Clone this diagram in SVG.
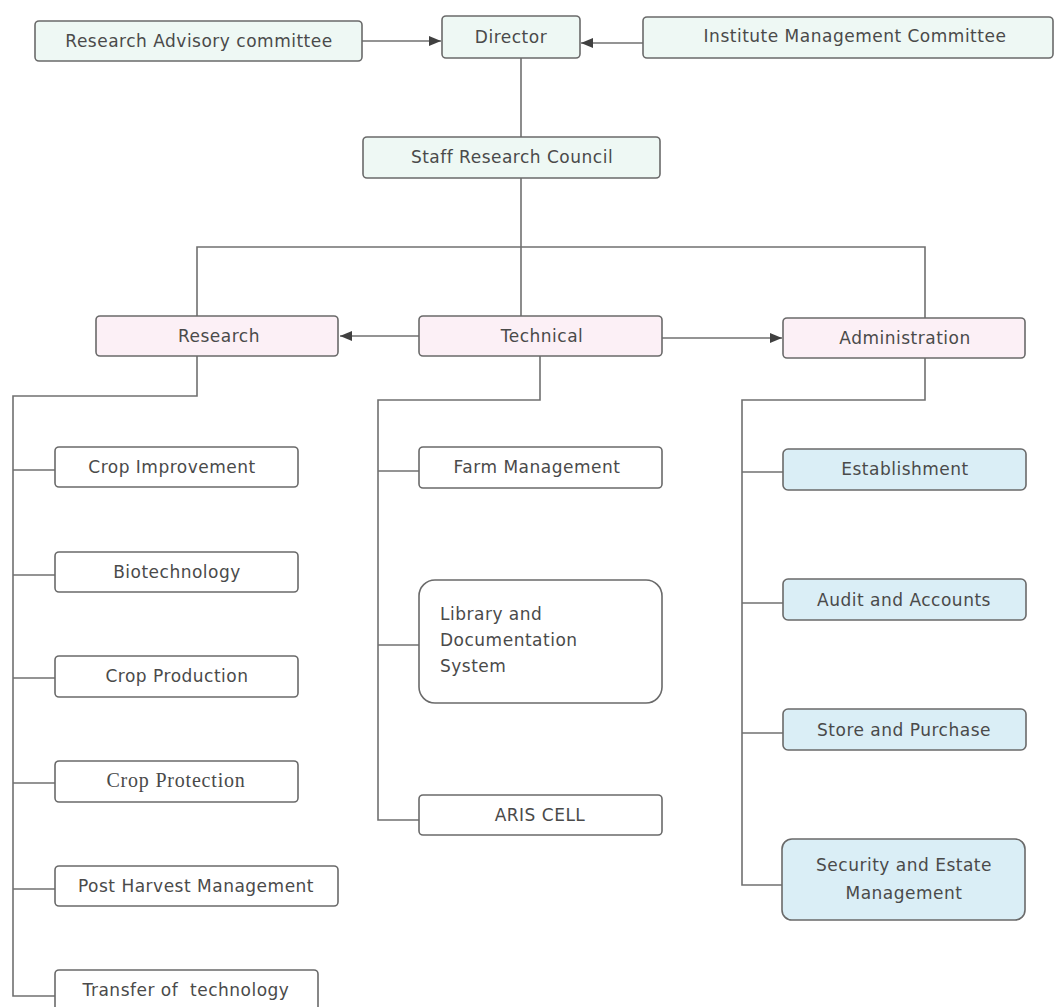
<svg xmlns="http://www.w3.org/2000/svg" width="1055" height="1007" viewBox="0 0 1055 1007">
<style>
.box{stroke:#6a6a6a;stroke-width:1.6}
.top{fill:#eef8f4}
.mid{fill:#fcf0f6}
.adm{fill:#daeef6}
.plain{fill:#ffffff}
.t{font-family:"DejaVu Sans",Verdana,sans-serif;font-size:17px;letter-spacing:0.5px;fill:#4a4a4a;text-anchor:middle}
.ts{font-family:"Liberation Serif","Times New Roman",serif;font-size:20px;letter-spacing:0.8px;fill:#4a4a4a;text-anchor:middle}
.c{fill:none;stroke:#707070;stroke-width:1.6}
</style>
<defs>
<marker id="ah" viewBox="0 0 12 10" refX="12" refY="5" markerWidth="12" markerHeight="10" markerUnits="userSpaceOnUse" orient="auto">
<path d="M0,0 L12,5 L0,10 Z" fill="#404040"/>
</marker>
</defs>
<rect width="1055" height="1007" fill="#ffffff"/>
<g id="connectors">
<line class="c" x1="362" y1="41" x2="441" y2="41" marker-end="url(#ah)"/>
<line class="c" x1="643" y1="43" x2="581" y2="43" marker-end="url(#ah)"/>
<line class="c" x1="521" y1="58" x2="521" y2="137"/>
<line class="c" x1="521" y1="178" x2="521" y2="316"/>
<polyline class="c" points="197,316 197,247 925,247 925,318"/>
<line class="c" x1="419" y1="336" x2="340" y2="336" marker-end="url(#ah)"/>
<line class="c" x1="662" y1="338" x2="782" y2="338" marker-end="url(#ah)"/>
<polyline class="c" points="197,356 197,396 13,396 13,996 55,996"/>
<line class="c" x1="13" y1="470" x2="55" y2="470"/>
<line class="c" x1="13" y1="575" x2="55" y2="575"/>
<line class="c" x1="13" y1="678" x2="55" y2="678"/>
<line class="c" x1="13" y1="783" x2="55" y2="783"/>
<line class="c" x1="13" y1="889" x2="55" y2="889"/>
<polyline class="c" points="540,356 540,400 378,400 378,820 419,820"/>
<line class="c" x1="378" y1="471" x2="419" y2="471"/>
<line class="c" x1="378" y1="645" x2="419" y2="645"/>
<polyline class="c" points="925,358 925,400 742,400 742,885 783,885"/>
<line class="c" x1="742" y1="472" x2="783" y2="472"/>
<line class="c" x1="742" y1="603" x2="783" y2="603"/>
<line class="c" x1="742" y1="733" x2="783" y2="733"/>
</g>
<g id="rac"><rect class="box top" x="35" y="21" width="327" height="40" rx="4"/><text class="t" x="199" y="47">Research Advisory committee</text></g>
<g id="director"><rect class="box top" x="442" y="16" width="138" height="42" rx="4"/><text class="t" x="511" y="43">Director</text></g>
<g id="imc"><rect class="box top" x="643" y="17" width="410" height="41" rx="4"/><text class="t" x="855" y="42">Institute Management Committee</text></g>
<g id="src"><rect class="box top" x="363" y="137" width="297" height="41" rx="4"/><text class="t" x="512" y="163">Staff Research Council</text></g>
<g id="research"><rect class="box mid" x="96" y="316" width="242" height="40" rx="4"/><text class="t" x="219" y="342">Research</text></g>
<g id="technical"><rect class="box mid" x="419" y="316" width="243" height="40" rx="4"/><text class="t" x="542" y="342">Technical</text></g>
<g id="administration"><rect class="box mid" x="783" y="318" width="242" height="40" rx="4"/><text class="t" x="905" y="344">Administration</text></g>
<g id="crop-improvement"><rect class="box plain" x="55" y="447" width="243" height="40" rx="4"/><text class="t" x="172" y="473">Crop Improvement</text></g>
<g id="biotechnology"><rect class="box plain" x="55" y="552" width="243" height="40" rx="4"/><text class="t" x="177" y="578">Biotechnology</text></g>
<g id="crop-production"><rect class="box plain" x="55" y="656" width="243" height="41" rx="4"/><text class="t" x="177" y="682">Crop Production</text></g>
<g id="crop-protection"><rect class="box plain" x="55" y="761" width="243" height="41" rx="4"/><text class="ts" x="176" y="787">Crop Protection</text></g>
<g id="post-harvest"><rect class="box plain" x="55" y="866" width="283" height="40" rx="4"/><text class="t" x="196" y="892">Post Harvest Management</text></g>
<g id="transfer"><rect class="box plain" x="55" y="970" width="263" height="44" rx="4"/><text class="t" x="186" y="996" xml:space="preserve">Transfer of  technology</text></g>
<g id="farm-management"><rect class="box plain" x="419" y="447" width="243" height="41" rx="4"/><text class="t" x="537" y="473">Farm Management</text></g>
<g id="library"><rect class="box plain" x="419" y="580" width="243" height="123" rx="16"/><text class="t" x="440" y="620" style="text-anchor:start">Library and</text><text class="t" x="440" y="646" style="text-anchor:start">Documentation</text><text class="t" x="440" y="672" style="text-anchor:start">System</text></g>
<g id="aris-cell"><rect class="box plain" x="419" y="795" width="243" height="40" rx="4"/><text class="t" x="540" y="821">ARIS CELL</text></g>
<g id="establishment"><rect class="box adm" x="783" y="449" width="243" height="41" rx="5"/><text class="t" x="905" y="475">Establishment</text></g>
<g id="audit"><rect class="box adm" x="783" y="579" width="243" height="41" rx="5"/><text class="t" x="904" y="606">Audit and Accounts</text></g>
<g id="store"><rect class="box adm" x="783" y="709" width="243" height="41" rx="5"/><text class="t" x="904" y="736">Store and Purchase</text></g>
<g id="security"><rect class="box adm" x="782" y="839" width="243" height="81" rx="10"/><text class="t" x="904" y="871">Security and Estate</text><text class="t" x="904" y="899">Management</text></g>
</svg>
